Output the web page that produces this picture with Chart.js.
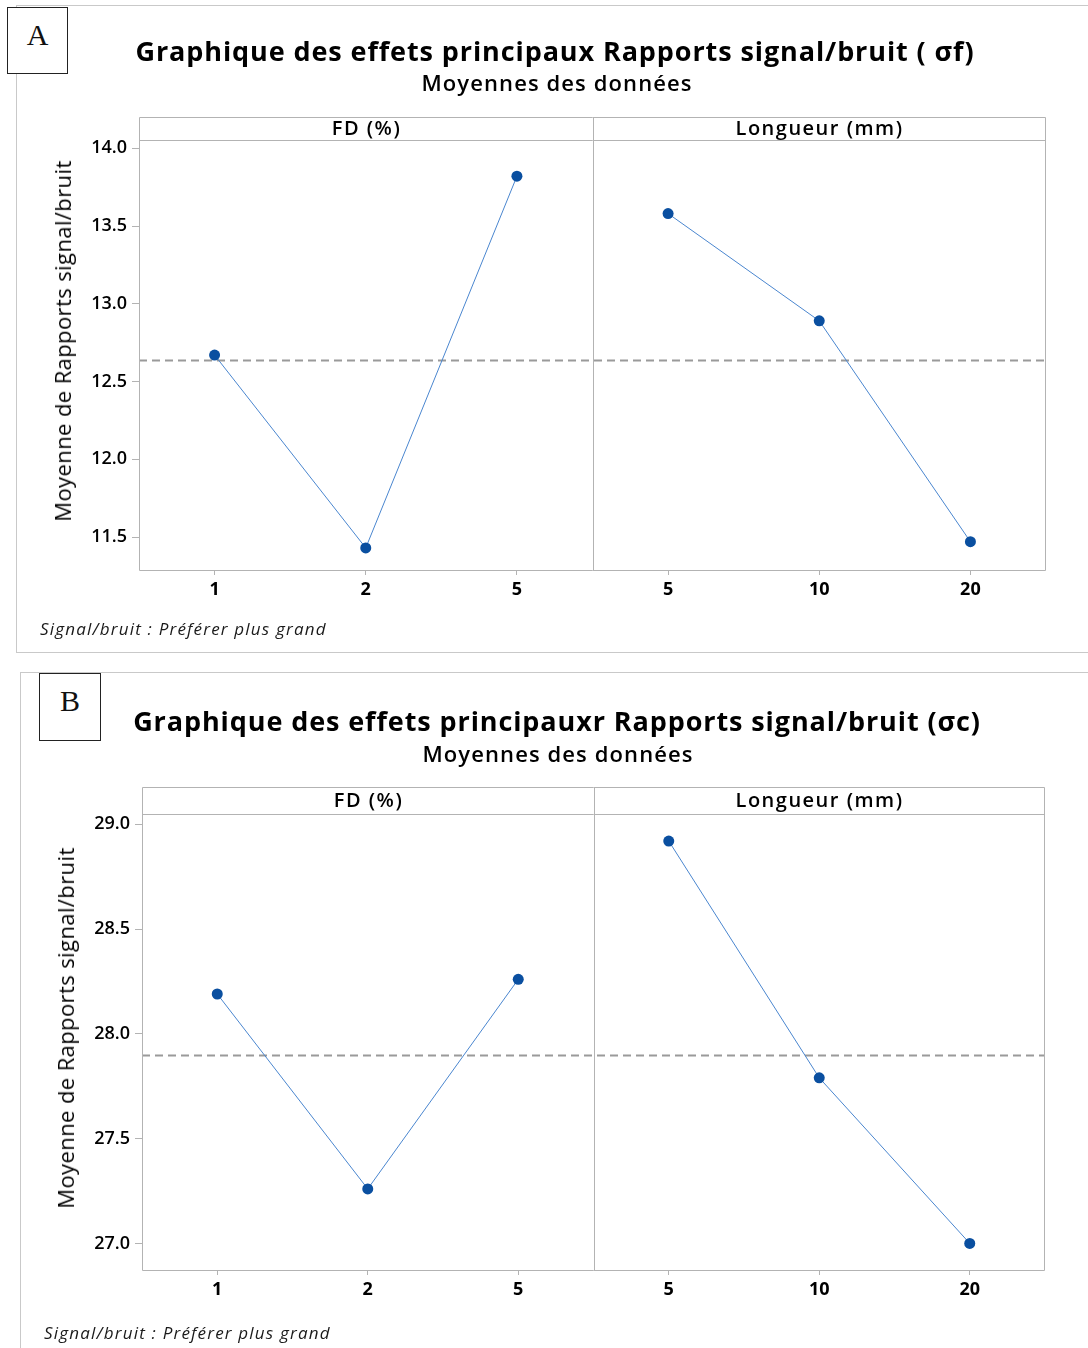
<!DOCTYPE html>
<html lang="fr">
<head>
<meta charset="utf-8">
<title>Graphique des effets principaux – Rapports signal/bruit</title>
<script src="https://cdn.jsdelivr.net/npm/chart.js@4.4.1/dist/chart.umd.min.js"></script>
<style>
  html, body { margin: 0; padding: 0; background: #fff; }
  body { width: 1088px; height: 1348px; position: relative; overflow: hidden; font-family: "Open Sans", "Noto Sans", sans-serif; color: #000; }
  canvas { position: absolute; left: 0; }
  .frame { position: absolute; border-color: #c9c9c9; border-style: solid; border-width: 0; }
  .tag { position: absolute; border: 1px solid #222; background: #fff; font-family: "Liberation Serif", serif; font-size: 30px; line-height: 1; text-align: center; box-sizing: border-box; color: #111; }
  .title { position: absolute; white-space: nowrap; transform: translate(-50%, -50%); font-weight: 700; font-size: 27px; letter-spacing: 0.9px; }
  .subtitle { position: absolute; white-space: nowrap; transform: translate(-50%, -50%); font-weight: 600; font-size: 22px; letter-spacing: 1.1px; }
  .ytitle { position: absolute; white-space: nowrap; transform: translate(-50%, -50%) rotate(-90deg); font-weight: 500; font-size: 22px; letter-spacing: 0.4px; }
  .note { position: absolute; white-space: nowrap; transform: translateY(-50%); font-style: italic; font-size: 17px; letter-spacing: 1.2px; color: #1a1a1a; }
</style>
</head>
<body>
<!-- panel frames -->
<div class="frame" style="left:16px; top:5px; width:1080px; height:646px; border-top-width:1px; border-left-width:1px; border-bottom-width:1px;"></div>
<div class="frame" style="left:20px; top:672px; width:1080px; height:690px; border-top-width:1px; border-left-width:1px;"></div>

<canvas id="chartA" width="1088" height="651" style="top:0"></canvas>
<canvas id="chartB" width="1088" height="697" style="top:651px"></canvas>

<div class="tag" style="left:7px; top:7px; width:61px; height:67px; padding-top:12px;">A</div>
<div class="title" style="left:555px; top:50px;">Graphique des effets principaux Rapports signal/bruit ( σf)</div>
<div class="subtitle" style="left:557px; top:82px;">Moyennes des données</div>
<div class="ytitle" style="left:62px; top:341px;">Moyenne de Rapports signal/bruit</div>
<div class="note" style="left:40px; top:628px;">Signal/bruit : Préférer plus grand</div>

<div class="tag" style="left:39px; top:673px; width:62px; height:68px; padding-top:12px;">B</div>
<div class="title" style="left:557px; top:720px;">Graphique des effets principauxr Rapports signal/bruit (σc)</div>
<div class="subtitle" style="left:558px; top:753px;">Moyennes des données</div>
<div class="ytitle" style="left:65px; top:1028px;">Moyenne de Rapports signal/bruit</div>
<div class="note" style="left:44px; top:1332px;">Signal/bruit : Préférer plus grand</div>

<script>
// Factor levels
const fdLevels = ['1', '2', '5'];
const longueurLevels = ['5', '10', '20'];
const factorNames = ['FD (%)', 'Longueur (mm)'];

// (A) S/N ratio means, σf
const fdMeansA = [12.67, 11.43, 13.82];
const longueurMeansA = [13.58, 12.89, 11.47];
const grandMeanA = 12.64;
const yTicksA = [11.5, 12.0, 12.5, 13.0, 13.5, 14.0];

// (B) S/N ratio means, σc
const fdMeansB = [28.19, 27.26, 28.26];
const longueurMeansB = [28.92, 27.79, 27.00];
const grandMeanB = 27.90;
const yTicksB = [27.0, 27.5, 28.0, 28.5, 29.0];

const LINE = '#4a86cf';
const POINT = '#0a4fa0';
const FRAME = '#b3b3b3';

// Draws the grand-mean reference line, the factor strips, the panel divider and the frame
const panelPlugin = {
  id: 'panelDecor',
  beforeDatasetsDraw(chart, args, opts) {
    const { ctx, chartArea: a, scales: { y } } = chart;
    const ym = Math.round(y.getPixelForValue(opts.mean)) + 0.5;
    ctx.save();
    ctx.strokeStyle = '#9a9a9a';
    ctx.lineWidth = 2;
    ctx.setLineDash([8, 5]);
    ctx.beginPath();
    ctx.moveTo(a.left, ym);
    ctx.lineTo(a.right, ym);
    ctx.stroke();
    ctx.restore();
  },
  afterDraw(chart, args, opts) {
    const { ctx, chartArea: a, scales: { x } } = chart;
    const n = opts.split;
    const xDiv = Math.round((x.getPixelForValue(n - 1) + x.getPixelForValue(n)) / 2) + 0.5;
    const top = a.top - opts.strip;
    const L = Math.round(a.left) + 0.5, R = Math.round(a.right) - 0.5;
    const T = Math.round(top) + 0.5, B = Math.round(a.bottom) + 0.5, S = Math.round(a.top) + 0.5;
    ctx.save();
    ctx.strokeStyle = FRAME;
    ctx.lineWidth = 1;
    ctx.beginPath();
    ctx.rect(L, T, R - L, B - T);
    ctx.moveTo(L, S); ctx.lineTo(R, S);
    ctx.moveTo(xDiv, T); ctx.lineTo(xDiv, B);
    ctx.stroke();
    ctx.fillStyle = '#000';
    ctx.font = '600 20px "Open Sans", "Noto Sans", sans-serif';
    if ('letterSpacing' in ctx) ctx.letterSpacing = '1.5px';
    ctx.textAlign = 'center';
    ctx.textBaseline = 'middle';
    const midY = (T + S) / 2 + 0.5;
    ctx.fillText(opts.names[0], (L + xDiv) / 2, midY);
    ctx.fillText(opts.names[1], (xDiv + R) / 2, midY);
    ctx.restore();
  }
};

function buildChart(id, fd, lg, mean, ticks, range, box) {
  const labels = fdLevels.concat(longueurLevels);
  const pad = fdLevels.map(() => null);
  const fam = '"Open Sans", "Noto Sans", sans-serif';
  return new Chart(document.getElementById(id), {
    type: 'line',
    data: {
      labels,
      datasets: [
        { label: factorNames[0], data: fd.concat(pad) },
        { label: factorNames[1], data: pad.concat(lg) }
      ].map(d => Object.assign(d, {
        borderColor: LINE, borderWidth: 1, backgroundColor: POINT,
        pointBackgroundColor: POINT, pointBorderColor: POINT, pointRadius: 5.5,
        pointBorderWidth: 0, spanGaps: false, tension: 0
      }))
    },
    options: {
      responsive: false,
      animation: false,
      events: [],
      layout: { padding: { left: 0, top: box.top, right: box.right, bottom: box.bottom } },
      plugins: {
        legend: { display: false },
        tooltip: { enabled: false },
        panelDecor: { mean, split: fdLevels.length, strip: box.strip, names: factorNames }
      },
      scales: {
        x: {
          type: 'category',
          offset: true,
          border: { display: false },
          grid: { drawOnChartArea: false, drawTicks: true, tickLength: 5, color: FRAME, offset: false },
          ticks: { color: '#000', font: { family: fam, size: 18, weight: '700' }, padding: 4, autoSkip: false, maxRotation: 0 },
          afterFit(s) { s.height = 40; }
        },
        y: {
          min: range[0], max: range[1],
          border: { display: false },
          grid: { drawOnChartArea: false, drawTicks: true, tickLength: 7, color: FRAME },
          ticks: { color: '#000', font: { family: fam, size: 18, weight: '600' }, padding: 5, callback: v => Number(v).toFixed(1) },
          afterBuildTicks(s) { s.ticks = ticks.map(v => ({ value: v })); },
          afterFit(s) { s.width = box.left; }
        }
      }
    },
    plugins: [panelPlugin]
  });
}

buildChart('chartA', fdMeansA, longueurMeansA, grandMeanA, yTicksA, [11.288, 14.053],
  { left: 139, top: 140, right: 42, bottom: 41, strip: 23 });
buildChart('chartB', fdMeansB, longueurMeansB, grandMeanB, yTicksB, [26.873, 29.049],
  { left: 142, top: 163, right: 43, bottom: 38, strip: 27 });
</script>
</body>
</html>
